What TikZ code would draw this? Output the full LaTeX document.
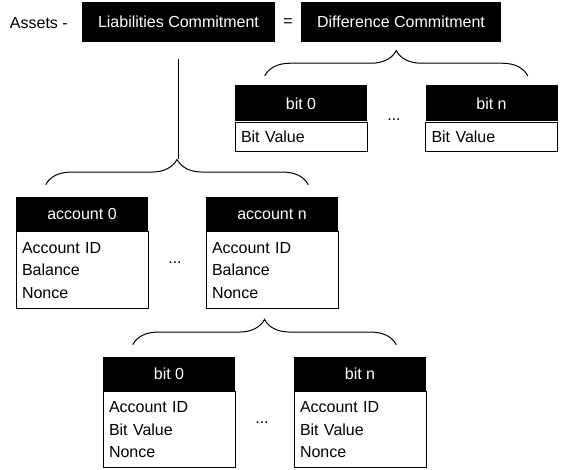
\documentclass[tikz,border=0pt]{standalone}
\usepackage{fontspec}
\setmainfont{Liberation Sans}
\usetikzlibrary{positioning, calc, decorations.pathreplacing}

\tikzset{
  commitbox/.style={fill=black, text=white, minimum height=30pt, inner sep=0pt},
  header/.style={fill=black, text=white, minimum width=99pt, minimum height=25.5pt, inner sep=0pt},
  fields/.style={draw, line width=0.75pt, minimum width=99pt, text width=90pt, align=left, inner xsep=4.5pt, inner ysep=0pt},
  curly/.style={decorate, decoration={brace, amplitude=19pt}, line width=0.75pt},
}

\begin{document}
\begin{tikzpicture}[x=0.75pt, y=-0.75pt, font=\fontsize{12}{17}\selectfont]
  \useasboundingbox (0,0) rectangle (562,470);

  \node[anchor=east, inner sep=0pt] (assets) at (68,23) {Assets -};
  \node[commitbox, minimum width=144.75pt] (liab) at (178.5,22) {Liabilities Commitment};
  \node (eq) at (288,23) {=};
  \node[commitbox, minimum width=150pt] (diff) at (401,22) {Difference Commitment};

  \node[header, minimum height=27pt] (dbit0) at (301,103.5) {bit 0};
  \node[fields, minimum height=21.75pt, below=0pt of dbit0] (dbit0f) {Bit Value};
  \node[header, minimum height=27pt] (dbitn) at (491.5,103.5) {bit n};
  \node[fields, minimum height=21.75pt, below=0pt of dbitn] (dbitnf) {Bit Value};
  \node (ddots) at (394,120) {...};

  \node[header] (acc0) at (82,214) {account 0};
  \node[fields, minimum height=57.75pt, below=0pt of acc0] (acc0f) {Account ID\\Balance\\Nonce};
  \node[header] (accn) at (272,214) {account n};
  \node[fields, minimum height=57.75pt, below=0pt of accn] (accnf) {Account ID\\Balance\\Nonce};
  \node (adots) at (175,263) {...};

  \node[header] (lbit0) at (169,374) {bit 0};
  \node[fields, minimum height=57pt, below=0pt of lbit0] (lbit0f) {Account ID\\Bit Value\\Nonce};
  \node[header] (lbitn) at (360,374) {bit n};
  \node[fields, minimum height=57pt, below=0pt of lbitn] (lbitnf) {Account ID\\Bit Value\\Nonce};
  \node (ldots) at (262,423) {...};

  \draw[curly] ([xshift=22.5pt, yshift=7pt]dbit0.north west) -- ([xshift=-22.5pt, yshift=7pt]dbitn.north east);
  \draw[curly] ([xshift=22.5pt, yshift=9pt]acc0.north west) -- ([xshift=-22.5pt, yshift=9pt]accn.north east);
  \draw[curly] ([xshift=22.5pt, yshift=9pt]lbit0.north west) -- ([xshift=-22.5pt, yshift=9pt]lbitn.north east);

  \coordinate (liabdrop) at ([yshift=-12.75pt]liab.south);
  \coordinate (acctip) at ($(acc0.north west)!0.5!(accn.north east) + (0,28pt)$);
  \draw[line width=0.75pt] (liabdrop) -- (liabdrop |- acctip);
\end{tikzpicture}
\end{document}
